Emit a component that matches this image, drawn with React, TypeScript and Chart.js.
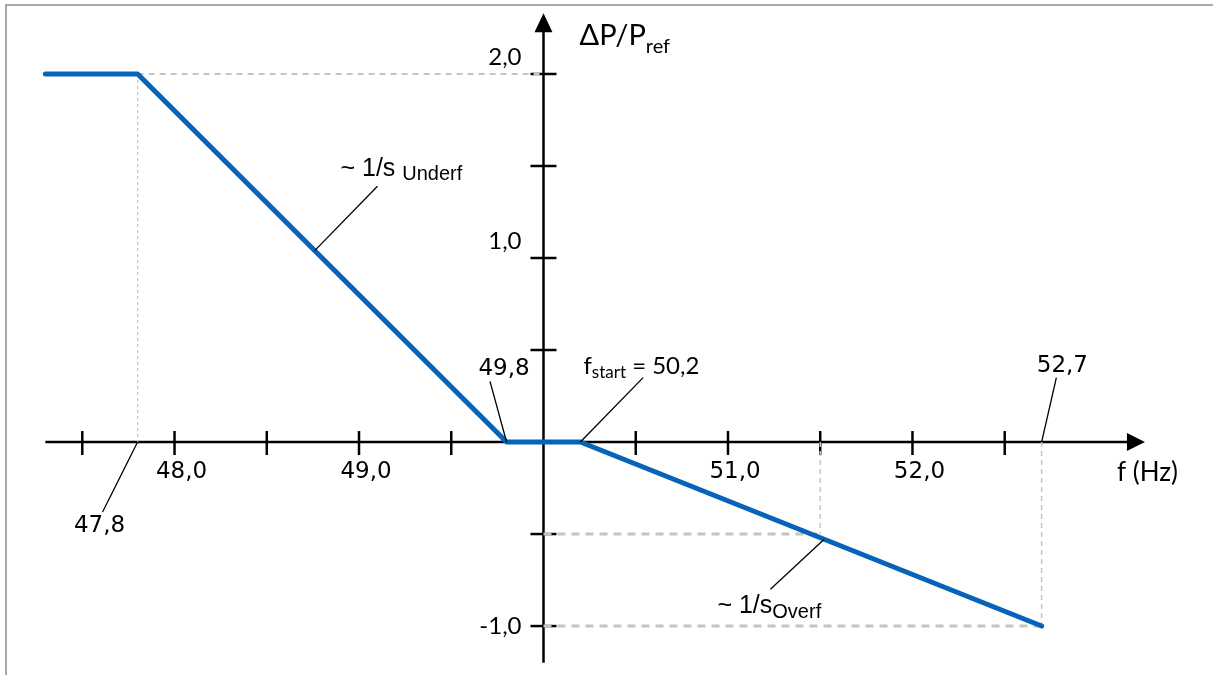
import React, { useEffect, useRef } from "react";
import { Chart, registerables } from "chart.js";

Chart.register(...registerables);

// ---- data ----
const curveX = [47.3, 47.8, 49.8, 50.2, 52.7];
const curveY = [2, 2, 0, 0, -1];

const xTickValues = [47.5, 48, 48.5, 49, 49.5, 50.5, 51, 51.5, 52, 52.5];
const xLabelValues = [48, 49, 51, 52];
const xLabelTexts = ["48,0", "49,0", "51,0", "52,0"];

const yTickValues = [-1, -0.5, 0.5, 1, 1.5, 2];
const yLabelValues = [2, 1, -1];
const yLabelTexts = ["2,0", "1,0", "-1,0"];

const originX = 50;
const originY = 0;
const xAxisRange = [47.3, 53.26];
const yAxisRange = [-1.2, 2.33];
const xView = [47.054, 53.629];
const yView = [-1.266, 2.402];

// guide lines [x1, y1, x2, y2]
const guideUpper = [
  [47.8, 2, 50, 2],
  [47.8, 2, 47.8, 0],
];
const guideLowerH = [
  [50, -0.5, 51.5, -0.5],
  [50, -1, 52.7, -1],
];
const guideLowerV = [
  [51.5, 0, 51.5, -0.5],
  [52.7, 0, 52.7, -1],
];

// leader lines [x1, y1, x2, y2] in data units
const leaderUnderf = [48.76, 1.04, 49.1, 1.39];
const leader498 = [49.8, 0, 49.71, 0.33];
const leaderFstart = [50.2, 0, 50.54, 0.35];
const leader527 = [52.7, 0, 52.78, 0.35];
const leader478 = [47.8, 0, 47.61, -0.38];
const leaderOverf = [51.52, -0.53, 51.23, -0.8];

const BLUE = "#0563b8";
const GRAY = "#c4c4c4";

function App() {
  const ref = useRef<HTMLCanvasElement | null>(null);

  useEffect(() => {
    document.body.style.margin = "0";
    const canvas = ref.current;
    if (!canvas) return;

    const seg = (s: number[]) => [
      { x: s[0], y: s[1] },
      { x: s[2], y: s[3] },
    ];

    const datasets: any[] = [];
    guideUpper.forEach((g, i) =>
      datasets.push({
        data: seg(g),
        borderColor: GRAY,
        borderWidth: i === 0 ? 2 : 1.2,
        borderDash: i === 0 ? [6, 5] : [3, 3],
        pointRadius: 0,
        showLine: true,
        order: 2,
      })
    );
    guideLowerH.forEach((g) =>
      datasets.push({
        data: seg(g),
        borderColor: GRAY,
        borderWidth: 3,
        borderDash: [8, 6],
        pointRadius: 0,
        showLine: true,
        order: 2,
      })
    );
    guideLowerV.forEach((g) =>
      datasets.push({
        data: seg(g),
        borderColor: GRAY,
        borderWidth: 1.5,
        borderDash: [5, 4],
        pointRadius: 0,
        showLine: true,
        order: 2,
      })
    );
    datasets.push({
      data: curveX.map((x, i) => ({ x, y: curveY[i] })),
      borderColor: BLUE,
      borderWidth: 5,
      borderCapStyle: "round",
      borderJoinStyle: "round",
      pointRadius: 0,
      showLine: true,
      order: 0,
    });

    const drawRich = (
      ctx: CanvasRenderingContext2D,
      parts: { t: string; f: string; dy?: number }[],
      x: number,
      y: number
    ) => {
      let cx = x;
      ctx.textAlign = "left";
      ctx.textBaseline = "alphabetic";
      for (const p of parts) {
        ctx.font = p.f;
        ctx.fillText(p.t, cx, y + (p.dy || 0));
        cx += ctx.measureText(p.t).width;
      }
    };

    const plugin = {
      id: "diagram",
      beforeDatasetsDraw(chart: any) {
        const ctx: CanvasRenderingContext2D = chart.ctx;
        const xs = chart.scales.x;
        const ys = chart.scales.y;
        const px = (v: number) => xs.getPixelForValue(v);
        const py = (v: number) => ys.getPixelForValue(v);
        ctx.save();
        // frame
        ctx.strokeStyle = "#a8a8a8";
        ctx.lineWidth = 2;
        ctx.beginPath();
        ctx.moveTo(6, 675);
        ctx.lineTo(6, 5);
        ctx.lineTo(1213, 5);
        ctx.stroke();

        const ox = px(originX);
        const oy = py(originY);
        ctx.strokeStyle = "#000";
        ctx.fillStyle = "#000";
        ctx.lineWidth = 2.5;
        // x axis
        const xTip = px(xAxisRange[1]);
        ctx.beginPath();
        ctx.moveTo(px(xAxisRange[0]), oy);
        ctx.lineTo(xTip - 16, oy);
        ctx.stroke();
        ctx.beginPath();
        ctx.moveTo(xTip, oy);
        ctx.lineTo(xTip - 18, oy - 9);
        ctx.lineTo(xTip - 18, oy + 9);
        ctx.closePath();
        ctx.fill();
        // y axis
        const yTip = py(yAxisRange[1]);
        ctx.beginPath();
        ctx.moveTo(ox, py(yAxisRange[0]));
        ctx.lineTo(ox, yTip + 16);
        ctx.stroke();
        ctx.beginPath();
        ctx.moveTo(ox, yTip);
        ctx.lineTo(ox - 9, yTip + 19);
        ctx.lineTo(ox + 9, yTip + 19);
        ctx.closePath();
        ctx.fill();
        // ticks
        ctx.lineWidth = 2.5;
        xTickValues.forEach((v) => {
          ctx.beginPath();
          ctx.moveTo(px(v), oy - 11);
          ctx.lineTo(px(v), oy + 13);
          ctx.stroke();
        });
        yTickValues.forEach((v) => {
          ctx.beginPath();
          ctx.moveTo(ox - 13, py(v));
          ctx.lineTo(ox + 13, py(v));
          ctx.stroke();
        });
        ctx.restore();
      },
      afterDatasetsDraw(chart: any) {
        const ctx: CanvasRenderingContext2D = chart.ctx;
        const xs = chart.scales.x;
        const ys = chart.scales.y;
        const px = (v: number) => xs.getPixelForValue(v);
        const py = (v: number) => ys.getPixelForValue(v);
        ctx.save();
        ctx.fillStyle = "#000";
        ctx.strokeStyle = "#000";
        const ox = px(originX);
        const oy = py(originY);

        // x labels
        ctx.font = "23px 'DejaVu Sans'";
        ctx.textAlign = "center";
        ctx.textBaseline = "middle";
        xLabelValues.forEach((v, i) => {
          ctx.fillText(xLabelTexts[i], px(v) + 7, oy + 30);
        });
        // y labels
        ctx.font = "24px Lato";
        ctx.textAlign = "right";
        yLabelValues.forEach((v, i) => {
          const dy = v < 0 ? 0 : -17;
          ctx.fillText(yLabelTexts[i], ox - 22, py(v) + dy);
        });
        // axis titles
        ctx.textAlign = "left";
        ctx.font = "26px Lato";
        ctx.fillText("f (Hz)", 1117, oy + 31);
        drawRich(
          ctx,
          [
            { t: "ΔP/P", f: "29px Lato" },
            { t: "ref", f: "20px Lato", dy: 8 },
          ],
          ox + 36,
          45
        );

        // leader lines
        ctx.lineWidth = 1.3;
        [leaderUnderf, leader498, leaderFstart, leader527, leader478, leaderOverf].forEach((l) => {
          ctx.beginPath();
          ctx.moveTo(px(l[0]), py(l[1]));
          ctx.lineTo(px(l[2]), py(l[3]));
          ctx.stroke();
        });

        // annotation texts
        drawRich(
          ctx,
          [
            { t: "~ 1/s ", f: "25px 'Liberation Sans'" },
            { t: "Underf", f: "20px 'Liberation Sans'", dy: 4 },
          ],
          px(49.1) - 37,
          py(1.39) - 10
        );
        drawRich(
          ctx,
          [
            { t: "~ 1/s", f: "25px 'Liberation Sans'" },
            { t: "Overf", f: "20px 'Liberation Sans'", dy: 5 },
          ],
          px(51.23) - 53,
          py(-0.8) + 24
        );
        ctx.textAlign = "center";
        ctx.textBaseline = "middle";
        ctx.font = "23px 'DejaVu Sans'";
        ctx.fillText("49,8", px(49.71) + 14, py(0.33) - 12);
        ctx.fillText("52,7", px(52.78) + 6, py(0.35) - 12);
        ctx.fillText("47,8", px(47.61) - 3, py(-0.38) + 14);
        drawRich(
          ctx,
          [
            { t: "f", f: "24px Lato" },
            { t: "start", f: "17px Lato", dy: 4 },
            { t: " = 50,2", f: "24px Lato" },
          ],
          px(50.2) + 3,
          py(0.35) - 4
        );
        ctx.restore();
      },
    };

    const chart = new Chart(canvas, {
      type: "scatter",
      data: { datasets },
      options: {
        animation: false,
        responsive: false,
        maintainAspectRatio: false,
        layout: { padding: 0 },
        plugins: { legend: { display: false }, tooltip: { enabled: false } },
        scales: {
          x: { type: "linear", display: false, min: xView[0], max: xView[1] },
          y: { type: "linear", display: false, min: yView[0], max: yView[1] },
        },
      },
      plugins: [plugin],
    } as any);

    return () => chart.destroy();
  }, []);

  return (
    <div style={{ width: 1213, height: 675, background: "#fff" }}>
      <canvas ref={ref} width={1213} height={675} style={{ display: "block" }} />
    </div>
  );
}

export default App;
